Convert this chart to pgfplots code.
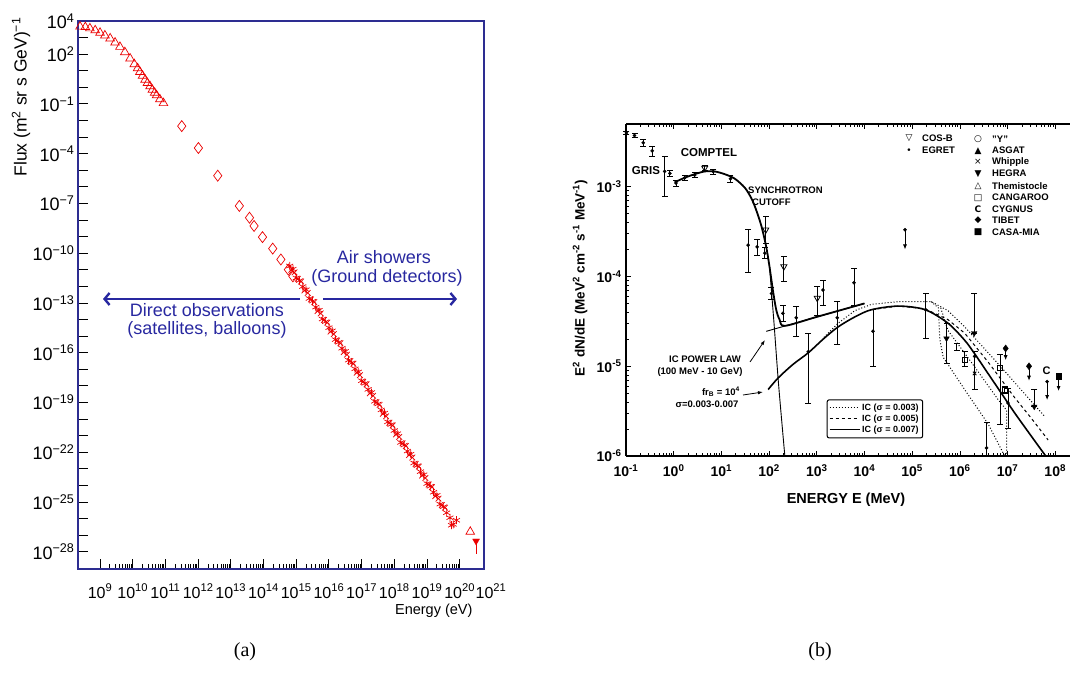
\documentclass[border=0pt]{standalone}
\usepackage{fontspec}
\setmainfont{Liberation Sans}
\newfontfamily\capfont{Liberation Serif}
\newfontfamily\symfont{DejaVu Sans}
\usepackage{pgfplots}
\pgfplotsset{compat=1.18}
\usetikzlibrary{arrows.meta}
\definecolor{axblue}{RGB}{45,45,145}
\definecolor{txtblue}{RGB}{40,40,160}
\definecolor{dred}{RGB}{235,0,0}
\newcommand{\fs}[1]{\fontsize{#1}{#1}\selectfont}
\newcommand{\yl}[1]{10\textsuperscript{#1}}
\newcommand{\bl}[1]{10\textsuperscript{#1}}
\begin{document}
\begin{tikzpicture}[x=1pt,y=1pt]
\path[use as bounding box] (0,0) rectangle (1071,673);

%================ LEFT PANEL =================
\begin{axis}[
  at={(78pt,104pt)}, anchor=south west, scale only axis,
  width=406pt, height=548pt,
  xmode=log, ymode=log,
  xmin=2.12e8, xmax=5.53e20, ymin=9.1e-30, ymax=1e4,
  axis line style={draw=axblue, line width=1.3pt},
  tick pos=left, tick align=inside,
  tick style={black, line width=0.9pt},
  major tick length=10pt, minor tick length=5pt,
  yminorticks=false,
  xtick={1e9,1e10,1e11,1e12,1e13,1e14,1e15,1e16,1e17,1e18,1e19,1e20},
  xticklabels={\yl{9},\yl{10},\yl{11},\yl{12},\yl{13},\yl{14},\yl{15},\yl{16},\yl{17},\yl{18},\yl{19},\yl{20}},
  ytick={1e4,1e3,1e2,1e1,1,1e-1,1e-2,1e-3,1e-4,1e-5,1e-6,1e-7,1e-8,1e-9,1e-10,1e-11,1e-12,1e-13,1e-14,1e-15,1e-16,1e-17,1e-18,1e-19,1e-20,1e-21,1e-22,1e-23,1e-24,1e-25,1e-26,1e-27,1e-28},
  yticklabels={\yl{4},,\yl{2},,,\yl{−1},,,\yl{−4},,,\yl{−7},,,\yl{−10},,,\yl{−13},,,\yl{−16},,,\yl{−19},,,\yl{−22},,,\yl{−25},,,\yl{−28}},
  xticklabel style={font=\fs{16}, anchor=base, yshift=-29pt, inner sep=0pt},
  yticklabel style={font=\fs{18}},
]
% triangles
\addplot[only marks, mark=triangle, mark size=5pt, dred, line width=0.7pt] coordinates {
(2.45e8,4.6e3) (3.55e8,4.3e3) (4.9e8,3.6e3) (7.1e8,2.75e3) (1.0e9,1.95e3) (1.41e9,1.35e3)
(2.04e9,8.9e2) (2.88e9,5.0e2) (4.07e9,2.75e2) (5.75e9,1.32e2) (8.3e9,55) (1.12e10,25)
(1.41e10,14.1) (1.66e10,8.5) (2.0e10,5.0) (2.4e10,2.9) (2.82e10,1.82) (3.39e10,1.15)
(3.98e10,0.71) (4.68e10,0.47) (5.37e10,0.33) (6.76e10,0.19) (8.7e10,0.112)
(2.1e20,1.6e-27)
};
% diamonds
\addplot[only marks, mark=diamond, mark size=5.5pt, dred, line width=0.7pt] coordinates {
(3.16e11,4.6e-3) (1.02e12,2.2e-4) (3.98e12,4.7e-6) (1.82e13,7.1e-8) (3.72e13,1.38e-8)
(5.13e13,4.4e-9) (9.3e13,9.3e-10) (1.91e14,1.91e-10) (3.39e14,4.2e-11) (5.75e14,1.02e-11)
(7.9e14,4.0e-12)
};
% asterisks
\addplot[only marks, mark=asterisk, mark size=4pt, dred, line width=0.7pt] coordinates {
(6.31e14,1.698e-11) (7.94e14,1.096e-11) (1e15,3.236e-12) (1.26e15,2.239e-12) (1.58e15,9.77e-13)
(2.0e15,6.31e-13) (2.51e15,1.862e-13) (3.16e15,1.288e-13) (3.98e15,5.62e-14) (5.01e15,3.63e-14)
(6.31e15,1.072e-14) (7.94e15,7.41e-15) (1e16,3.24e-15) (1.26e16,2.09e-15) (1.58e16,6.17e-16)
(2.0e16,4.27e-16) (2.51e16,1.862e-16) (3.16e16,1.202e-16) (3.98e16,3.55e-17) (5.01e16,2.455e-17)
(6.31e16,1.072e-17) (7.94e16,6.92e-18) (1e17,2.04e-18) (1.26e17,1.413e-18) (1.58e17,6.17e-19)
(2.0e17,3.98e-19) (2.51e17,1.175e-19) (3.16e17,8.13e-20) (3.98e17,3.55e-20) (5.01e17,2.29e-20)
(6.31e17,6.76e-21) (7.94e17,4.68e-21) (1e18,2.04e-21) (1.26e18,1.318e-21) (1.58e18,3.89e-22)
(2.0e18,2.69e-22) (2.51e18,1.175e-22) (3.16e18,7.59e-23) (3.98e18,2.24e-23) (5.01e18,1.549e-23)
(6.31e18,6.76e-24) (7.94e18,4.37e-24) (1e19,1.288e-24) (1.26e19,8.91e-25) (1.58e19,3.89e-25)
(2.0e19,2.51e-25) (2.51e19,7.41e-26) (3.16e19,5.13e-26) (3.98e19,2.24e-26) (5.01e19,1.12e-26)
(5.62e19,3.98e-27) (6.31e19,4.47e-27) (7.94e19,7.94e-27)
};
% crosses
\addplot[only marks, mark=x, mark size=4pt, dred, line width=0.7pt] coordinates {
(7.08e14,9.89e-12) (8.91e14,7.0e-12) (1.12e15,2.85e-12) (1.41e15,1.97e-12) (1.78e15,5.69e-13)
(2.24e15,4.03e-13) (2.82e15,1.64e-13) (3.55e15,1.135e-13) (4.47e15,3.27e-14) (5.62e15,2.32e-14)
(7.08e15,9.44e-15) (8.91e15,6.53e-15) (1.12e16,1.88e-15) (1.41e16,1.33e-15) (1.78e16,5.43e-16)
(2.24e16,3.76e-16) (2.82e16,1.08e-16) (3.55e16,7.67e-17) (4.47e16,3.13e-17) (5.62e16,2.16e-17)
(7.08e16,6.24e-18) (8.91e16,4.42e-18) (1.12e17,1.80e-18) (1.41e17,1.245e-18) (1.78e17,3.59e-19)
(2.24e17,2.54e-19) (2.82e17,1.035e-19) (3.55e17,7.16e-20) (4.47e17,2.07e-20) (5.62e17,1.46e-20)
(7.08e17,5.96e-21) (8.91e17,4.12e-21) (1.12e18,1.19e-21) (1.41e18,8.41e-22) (1.78e18,3.43e-22)
(2.24e18,2.37e-22) (2.82e18,6.84e-23) (3.55e18,4.84e-23) (4.47e18,1.97e-23) (5.62e18,1.36e-23)
(7.08e18,3.94e-24) (8.91e18,2.79e-24) (1.12e19,1.135e-24) (1.41e19,7.85e-25) (1.78e19,2.26e-25)
(2.24e19,1.60e-25) (2.82e19,6.53e-26) (3.55e19,4.52e-26)
};
% last point with error bar
\addplot[dred, line width=0.8pt] coordinates {(3.16e20,4.47e-28) (3.16e20,6.9e-29)};
\addplot[only marks, mark=triangle*, mark size=4pt, mark options={rotate=180}, dred] coordinates {(3.16e20,4.47e-28)};
\end{axis}

% left annotations
\node[font=\fs{17.5}, rotate=90] at (21,576) {Flux (m\textsuperscript{2} sr s GeV)\textsuperscript{−1}};
\node[font=\fs{14.5}, anchor=east] at (476,62) {Energy (eV)};
\node[font=\fs{16}, anchor=base, inner sep=0pt] at (491,75) {\yl{21}};
\node[font=\fs{18}, text=txtblue] at (384,416) {Air showers};
\node[font=\fs{18}, text=txtblue] at (387,395) {(Ground detectors)};
\node[font=\fs{18}, text=txtblue] at (207,363) {Direct observations};
\node[font=\fs{18}, text=txtblue] at (207,343) {(satellites, balloons)};
\draw[txtblue, line width=2.4pt, -{Straight Barb[length=5pt,width=12pt]}] (323,374) -- (457,374);
\draw[txtblue, line width=2.4pt, -{Straight Barb[length=5pt,width=12pt]}] (300,374) -- (103,374);

%================ RIGHT PANEL =================
\begin{axis}[
  at={(626pt,217pt)}, anchor=south west, scale only axis,
  width=444pt, height=332pt,
  xmode=log, ymode=log,
  xmin=0.1, xmax=2.04e8, ymin=1e-6, ymax=5.0e-3,
  axis x line*=box, axis y line*=left,
  axis line style={black, line width=1.2pt},
  tick align=inside, tick style={black, line width=0.7pt},
  major tick length=5pt, minor tick length=3pt,
  xtick={1e-1,1,1e1,1e2,1e3,1e4,1e5,1e6,1e7,1e8},
  xticklabels={\bl{-1},\bl{0},\bl{1},\bl{2},\bl{3},\bl{4},\bl{5},\bl{6},\bl{7},\bl{8}},
  ytick={1e-6,1e-5,1e-4,1e-3},
  yticklabels={\bl{-6},\bl{-5},\bl{-4},\bl{-3}},
  tick label style={font=\bfseries\fs{14}},
  xticklabel style={yshift=-5pt},
  yticklabel style={xshift=-1pt},
  legend style={at={(0.452,0.053)}, anchor=south west, draw=black, line width=1pt,
    rounded corners=2pt, font=\bfseries\fs{9}, row sep=-1pt, inner sep=2pt, cells={anchor=west}},
  legend image code/.code={\draw[#1, line width=1pt] (0pt,0pt) -- (30pt,0pt);},
]
% IC curves
\addplot[black, line width=1.0pt, dotted] coordinates {
(1413,2.09e-5) (2818,3.02e-5) (6310,4.17e-5) (1.41e4,4.90e-5) (5.25e4,5.25e-5) (2.51e5,5.25e-5)
(5.62e5,4.17e-5) (1.26e6,2.75e-5) (6.31e6,1.07e-5) (6.03e7,2.75e-6)};
\addlegendentry{IC (σ = 0.003)}
\addplot[black, line width=1.0pt, dashed] coordinates {
(1.41e4,4.27e-5) (5.13e4,4.68e-5) (1.86e5,4.37e-5) (5.62e5,3.31e-5) (1.26e6,2.34e-5)
(3.89e6,1.12e-5) (1.41e7,4.47e-6) (3.16e7,2.63e-6) (7.08e7,1.51e-6)};
\addlegendentry{IC (σ = 0.005)}
\addplot[black, line width=1.6pt, smooth] coordinates {
(95.5,5.50e-6) (155,7.41e-6) (316,1.047e-5) (661,1.41e-5) (1413,2.04e-5) (2818,2.75e-5)
(6310,3.55e-5) (1.41e4,4.27e-5) (5.13e4,4.68e-5) (1.86e5,4.27e-5) (5.62e5,3.02e-5)
(1.26e6,1.95e-5) (2.04e6,1.38e-5) (3.89e6,8.32e-6) (7.41e6,5.01e-6) (1.41e7,3.02e-6)
(3.16e7,1.66e-6) (6.31e7,1.0e-6)};
\addlegendentry{IC (σ = 0.007)}
% extra dotted curves
\addplot[black, line width=1.0pt, dotted, forget plot] coordinates {
(2.51e5,5.25e-5) (3.55e5,4.47e-5) (3.80e5,2.0e-5) (4.47e5,1.26e-5) (1.26e6,5.5e-6)
(3.89e6,2.29e-6) (8.71e6,1.0e-6)};
\addplot[black, line width=1.0pt, dotted, forget plot] coordinates {
(3.98e5,4.47e-5) (5.62e5,2.51e-5) (2.0e6,1.0e-5) (6.31e6,4.27e-6) (9.55e6,3.24e-6) (9.55e6,1e-6)};
% synchrotron + power law
\addplot[black, line width=1.8pt, smooth, forget plot] coordinates {
(1.047,1.122e-3) (1.70,1.259e-3) (2.75,1.38e-3) (4.47,1.48e-3) (7.24,1.48e-3) (11.75,1.38e-3)
(19.05,1.23e-3) (30.9,9.77e-4) (42.7,7.41e-4) (53.7,5.50e-4) (69.2,3.63e-4) (87.1,2.14e-4)
(102,1.29e-4) (120,7.08e-5) (141,4.27e-5) (166,3.31e-5) (214,2.82e-5) (1000,3.55e-5) (1e4,5.01e-5)};
\addplot[black, line width=0.9pt, forget plot] coordinates {(87.1,2.45e-5) (1e4,5.01e-5)};
\addplot[black, line width=0.9pt, smooth, forget plot] coordinates {(102,1.29e-4) (126,3.16e-5) (158,6.31e-6) (214,1.0e-6)};
% error bars
\addplot[black, line width=0.8pt, mark=-, mark size=3pt, mark options={solid}, unbounded coords=jump, forget plot] coordinates {
(0.102,3.8e-3) (0.102,4.17e-3) (nan,nan)
(0.151,3.55e-3) (0.151,3.9e-3) (nan,nan)
(0.229,2.82e-3) (0.229,3.39e-3) (nan,nan)
(0.355,2.19e-3) (0.355,2.82e-3) (nan,nan)
(0.646,7.76e-4) (0.646,2.19e-3) (nan,nan)
(0.832,1.32e-3) (0.832,1.51e-3) (nan,nan)
(1.12,1.02e-3) (1.12,1.18e-3) (nan,nan)
(1.70,1.17e-3) (1.70,1.35e-3) (nan,nan)
(2.75,1.26e-3) (2.75,1.45e-3) (nan,nan)
(4.47,1.51e-3) (4.47,1.74e-3) (nan,nan)
(6.76,1.38e-3) (6.76,1.58e-3) (nan,nan)
(15.5,1.12e-3) (15.5,1.35e-3) (nan,nan)
(36.3,1.10e-4) (36.3,3.39e-4) (nan,nan)
(56.2,1.74e-4) (56.2,2.57e-4) (nan,nan)
(81.3,1.58e-4) (81.3,2.09e-4) (nan,nan)
(112,5.62e-5) (112,7.59e-5) (nan,nan)
(195,3.16e-5) (195,4.79e-5) (nan,nan)
(372,2.14e-5) (372,4.68e-5) (nan,nan)
(661,3.89e-6) (661,2.34e-5) (nan,nan)
(1349,4.79e-5) (1349,9.12e-5) (nan,nan)
(2692,1.74e-5) (2692,5.25e-5) (nan,nan)
(6026,4.79e-5) (6026,1.23e-4) (nan,nan)
(1.51e4,1.0e-5) (1.51e4,4.27e-5) (nan,nan)
(1.91e5,2.04e-5) (1.91e5,6.46e-5) (nan,nan)
(85.1,2.34e-4) (85.1,4.68e-4) (nan,nan)
(204,8.71e-5) (204,1.66e-4) (nan,nan)
(1023,3.72e-5) (1023,7.76e-5) (nan,nan)
(5.25e5,1.07e-5) (5.25e5,3.02e-5) (nan,nan)
(8.51e5,1.51e-5) (8.51e5,1.82e-5) (nan,nan)
(1.26e6,1.0e-5) (1.26e6,1.45e-5) (nan,nan)
(2.04e6,5.5e-6) (2.04e6,1.45e-5) (nan,nan)
(2.0e6,2.34e-5) (2.0e6,6.46e-5) (nan,nan)
(3.63e6,1.0e-6) (3.63e6,2.34e-6) (nan,nan)
(6.92e6,2.24e-6) (6.92e6,1.35e-5) (nan,nan)
(8.71e6,5.0e-6) (8.71e6,6.0e-6) (nan,nan)
(1.02e7,2.04e-6) (1.02e7,5.62e-6) (nan,nan)
(3.63e7,3.55e-6) (3.63e7,5.5e-6)
};
% EGRET and other dots
\addplot[only marks, mark=*, mark size=1.6pt, black, forget plot] coordinates {
(0.102,3.98e-3) (0.151,3.72e-3) (0.229,3.09e-3) (0.355,2.51e-3) (0.646,1.48e-3) (0.832,1.41e-3)
(1.12,1.10e-3) (1.70,1.26e-3) (2.75,1.35e-3) (6.76,1.48e-3) (15.5,1.23e-3)
(36.3,2.24e-4) (56.2,2.14e-4) (81.3,1.82e-4) (112,6.46e-5) (195,3.89e-5) (372,3.47e-5)
(661,1.45e-5) (1349,7.08e-5) (2692,3.47e-5) (6026,8.51e-5) (1.51e4,2.45e-5) (1.91e5,4.27e-5)
(2.04e6,1.29e-5) (1.02e7,3.89e-6) (3.63e6,1.23e-6) (7.08e4,3.31e-4) (6.76e7,6.76e-6)};
% COS-B open down triangles
\addplot[only marks, mark=triangle, mark size=3.5pt, mark options={rotate=180, fill=white}, black, line width=0.8pt, forget plot] coordinates {
(85.1,3.31e-4) (204,1.29e-4) (1023,5.75e-5) (4.47,1.62e-3)};
% filled down triangles
\addplot[only marks, mark=triangle*, mark size=3.2pt, mark options={rotate=180}, black, forget plot] coordinates {
(5.25e5,2.04e-5) (2.0e6,2.34e-5) (3.63e7,3.55e-6)};
% open squares
\addplot[only marks, mark=square, mark size=2.6pt, mark options={fill=white}, black, line width=0.8pt, forget plot] coordinates {
(1.26e6,1.175e-5) (6.92e6,9.55e-6) (8.71e6,5.5e-6)};
% cross
\addplot[only marks, mark=x, mark size=2.5pt, black, line width=0.8pt, forget plot] coordinates {(2.04e6,8.32e-6)};
% TIBET diamonds
\addplot[only marks, mark=diamond*, mark size=3.5pt, black, forget plot] coordinates {(9.12e6,1.58e-5) (2.82e7,1.0e-5)};
% CASA-MIA square
\addplot[only marks, mark=square*, mark size=2.8pt, black, forget plot] coordinates {(1.175e8,7.76e-6)};
% CYGNUS
\addplot[only marks, mark=text, text mark={\bfseries\fs{11}C}, black, forget plot] coordinates {(6.61e7,8.9e-6)};
% upper limit arrows
\addplot[black, line width=0.8pt, -{Latex[length=5pt,width=4pt]}, forget plot] coordinates {(7.08e4,3.31e-4) (7.08e4,2.0e-4)};
\addplot[black, line width=0.8pt, -{Latex[length=5pt,width=4pt]}, forget plot] coordinates {(9.12e6,1.58e-5) (9.12e6,1.17e-5)};
\addplot[black, line width=0.8pt, -{Latex[length=5pt,width=4pt]}, forget plot] coordinates {(2.82e7,1.0e-5) (2.82e7,6.9e-6)};
\addplot[black, line width=0.8pt, -{Latex[length=5pt,width=4pt]}, forget plot] coordinates {(6.76e7,6.76e-6) (6.76e7,4.2e-6)};
\addplot[black, line width=0.8pt, -{Latex[length=5pt,width=4pt]}, forget plot] coordinates {(1.175e8,7.76e-6) (1.175e8,5.3e-6)};
\end{axis}

% right annotations
\node[font=\bfseries\fs{13.5}, rotate=90] at (580,395) {E\textsuperscript{2} dN/dE (MeV\textsuperscript{2} cm\textsuperscript{-2} s\textsuperscript{-1} MeV\textsuperscript{-1})};
\node[font=\bfseries\fs{14.5}] at (846,173) {ENERGY E (MeV)};
\node[font=\bfseries\fs{11.5}] at (646,502) {GRIS};
\node[font=\bfseries\fs{11.5}] at (709,520) {COMPTEL};
\node[font=\bfseries\fs{9.5}, anchor=west, inner sep=0pt] at (748,483) {SYNCHROTRON};
\node[font=\bfseries\fs{9.5}, anchor=west, inner sep=0pt] at (752,471) {CUTOFF};
\node[font=\bfseries\fs{9.5}] at (705,314) {IC POWER LAW};
\node[font=\bfseries\fs{9.5}] at (700,301) {(100 MeV - 10 GeV)};
\draw[black, line width=0.8pt, -{Latex[length=5pt,width=3.5pt]}] (750,311) -- (765,333);
\node[font=\bfseries\fs{9.5}, anchor=east, inner sep=0pt] at (740,281) {fr\textsubscript{B} = 10\textsuperscript{4}};
\node[font=\bfseries\fs{9.5}] at (707,269) {σ=0.003-0.007};
\draw[black, line width=0.8pt, -{Latex[length=5pt,width=3.5pt]}] (743,278) -- (763,281);
% marker key
\begin{scope}[every node/.style={font=\bfseries\fs{9.5}, anchor=west, inner sep=0pt}]
\node at (922,534.7) {COS-B};
\node at (922,522.3) {EGRET};
\node at (992,533.7) {"Y"};
\node at (992,522.3) {ASGAT};
\node at (992,510.7) {Whipple};
\node at (992,499.3) {HEGRA};
\node at (992,487.3) {Themistocle};
\node at (992,475.3) {CANGAROO};
\node at (992,464) {CYGNUS};
\node at (992,452.7) {TIBET};
\node at (992,440.7) {CASA-MIA};
\end{scope}
\begin{scope}[every node/.style={font=\symfont\fs{9}, inner sep=0pt}]
\node at (909,534.7) {▽};
\node at (909,522.3) {•};
\node at (978,533.7) {○};
\node at (978,522.3) {▲};
\node at (978,510.7) {×};
\node at (978,499.3) {▼};
\node at (978,487.3) {△};
\node at (978,475.3) {□};
\node at (978,464) {\bfseries C};
\node at (978,452.7) {◆};
\node at (978,440.7) {■};
\end{scope}

% captions
\node[font=\capfont\fs{20}] at (245,21) {(a)};
\node[font=\capfont\fs{20}] at (820,21) {(b)};
\end{tikzpicture}
\end{document}
